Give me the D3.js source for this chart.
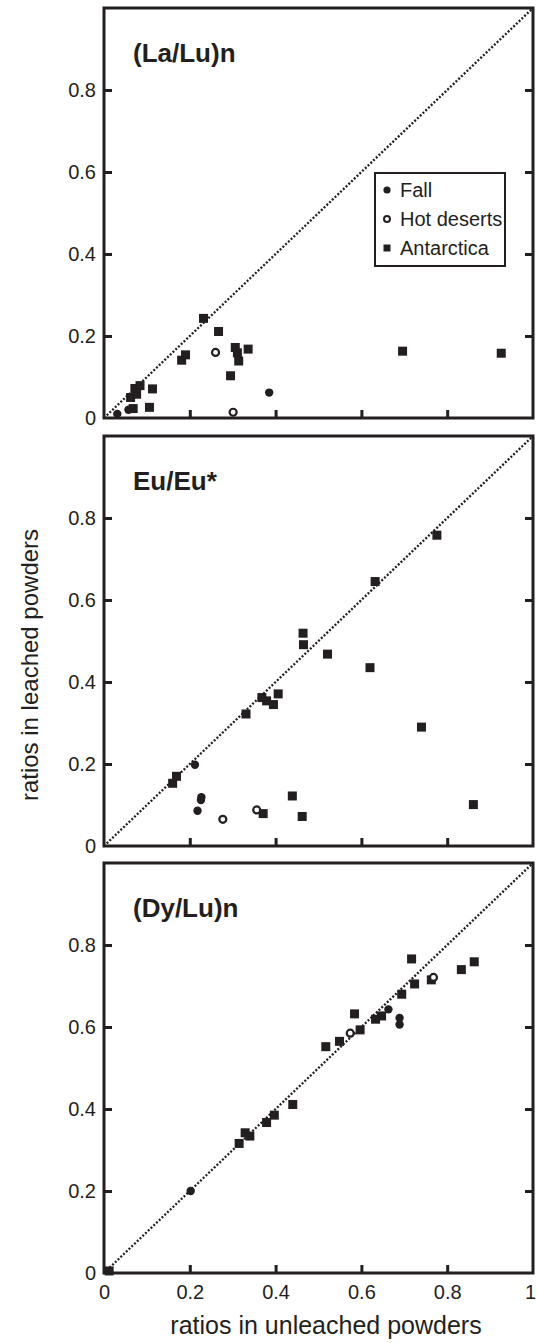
<!DOCTYPE html>
<html>
<head>
<meta charset="utf-8">
<script src="https://cdn.jsdelivr.net/npm/d3@7"></script>
<style>
html,body{margin:0;padding:0;background:#fff;}
svg{display:block;}
text{font-family:"Liberation Sans",Arial,Helvetica,sans-serif;fill:#231f20;}
</style>
</head>
<body>
<svg id="chart" width="537" height="1343"></svg>
<script>
// ---- data ----
const xTicks = [0, 0.2, 0.4, 0.6, 0.8, 1];
const yTicks = [0, 0.2, 0.4, 0.6, 0.8];
const seriesNames = ["Fall", "Hot deserts", "Antarctica"];
const panelLabels = ["(La/Lu)n", "Eu/Eu*", "(Dy/Lu)n"];

// (La/Lu)n : [unleached, leached]
const laLuFall = [[0.031,0.010],[0.057,0.020],[0.385,0.062]];
const laLuHot = [[0.260,0.160],[0.301,0.014]];
const laLuAnt = [[0.068,0.023],[0.062,0.050],[0.076,0.058],[0.072,0.072],[0.084,0.079],
  [0.113,0.071],[0.106,0.026],[0.181,0.141],[0.190,0.154],[0.232,0.243],[0.267,0.211],
  [0.306,0.172],[0.311,0.159],[0.314,0.139],[0.336,0.168],[0.295,0.103],[0.696,0.163],[0.926,0.158]];

// Eu/Eu*
const euFall = [[0.212,0.198],[0.227,0.119],[0.226,0.112],[0.218,0.086]];
const euHot = [[0.277,0.065],[0.356,0.088]];
const euAnt = [[0.776,0.758],[0.632,0.645],[0.464,0.519],[0.465,0.491],[0.521,0.468],
  [0.620,0.435],[0.740,0.290],[0.439,0.122],[0.462,0.072],[0.861,0.101],[0.160,0.153],
  [0.169,0.170],[0.371,0.079],[0.331,0.322],[0.368,0.362],[0.379,0.354],[0.395,0.345],[0.406,0.371]];

// (Dy/Lu)n
const dyLuFall = [[0.663,0.643],[0.689,0.622],[0.689,0.606],[0.202,0.200]];
const dyLuHot = [[0.768,0.721],[0.574,0.585]];
const dyLuAnt = [[0.717,0.766],[0.863,0.759],[0.833,0.740],[0.763,0.715],[0.724,0.705],
  [0.694,0.680],[0.647,0.627],[0.633,0.619],[0.584,0.632],[0.597,0.593],[0.549,0.565],
  [0.517,0.552],[0.440,0.411],[0.397,0.385],[0.379,0.367],[0.329,0.342],[0.340,0.334],
  [0.315,0.316],[0.012,0.005]];

const panels = [
  {label: panelLabels[0], fall: laLuFall, hot: laLuHot, ant: laLuAnt},
  {label: panelLabels[1], fall: euFall, hot: euHot, ant: euAnt},
  {label: panelLabels[2], fall: dyLuFall, hot: dyLuHot, ant: dyLuAnt}
];

// ---- layout ----
const ink = "#231f20";
const svg = d3.select("#chart");
const x = d3.scaleLinear().domain([0, 1]).range([104, 533]);
const bottoms = [418, 846, 1273];
const panelH = 410;
const sq = 9, rDot = 4.2, rOpen = 3.5;

panels.forEach((p, i) => {
  const y = d3.scaleLinear().domain([0, 1]).range([bottoms[i], bottoms[i] - panelH]);
  const g = svg.append("g");

  // diagonal 1:1 line
  g.append("line")
    .attr("x1", x(0)).attr("y1", y(0)).attr("x2", x(1)).attr("y2", y(1))
    .attr("stroke", ink).attr("stroke-width", 2.3)
    .attr("stroke-dasharray", "2 1.8");

  // left axis with labels
  const ay = g.append("g").attr("transform", `translate(${x(0)},0)`)
    .call(d3.axisLeft(y).tickValues(yTicks).tickSize(-8).tickPadding(8).tickFormat(d3.format("~g")));
  ay.select(".domain").remove();
  ay.selectAll("line").attr("stroke", ink).attr("stroke-width", 3);
  ay.selectAll("text").attr("font-size", 20).style("font-family", null);
  ay.selectAll(".tick").filter(d => d === 0).select("line").remove();

  // right axis ticks
  const ar = g.append("g").attr("transform", `translate(${x(1)},0)`)
    .call(d3.axisRight(y).tickValues(yTicks.filter(d => d > 0)).tickSize(-8).tickFormat(""));
  ar.select(".domain").remove();
  ar.selectAll("line").attr("stroke", ink).attr("stroke-width", 3);

  // bottom axis
  const ab = g.append("g").attr("transform", `translate(0,${y(0)})`)
    .call(d3.axisBottom(x).tickValues(i === 2 ? xTicks : xTicks.filter(d => d > 0 && d < 1))
      .tickSize(-8).tickPadding(12).tickFormat(i === 2 ? d3.format("~g") : ""));
  ab.select(".domain").remove();
  ab.selectAll("line").attr("stroke", ink).attr("stroke-width", 3);
  ab.selectAll(".tick").filter(d => d === 0 || d === 1).select("line").remove();
  ab.selectAll("text").attr("font-size", 20).style("font-family", null);
  ab.selectAll(".tick").filter(d => d === 1).select("text").attr("dx", "-3");

  // frame
  g.append("rect")
    .attr("x", x(0)).attr("y", y(1)).attr("width", x(1) - x(0)).attr("height", y(0) - y(1))
    .attr("fill", "none").attr("stroke", ink).attr("stroke-width", 3);

  // panel label
  g.append("text").attr("x", x(0) + 29).attr("y", y(1) + 54)
    .attr("font-size", 26).attr("font-weight", "bold").text(p.label);

  // points
  g.selectAll("rect.ant").data(p.ant).join("rect").attr("class", "ant")
    .attr("x", d => x(d[0]) - sq / 2).attr("y", d => y(d[1]) - sq / 2)
    .attr("width", sq).attr("height", sq).attr("fill", ink);
  g.selectAll("circle.fall").data(p.fall).join("circle").attr("class", "fall")
    .attr("cx", d => x(d[0])).attr("cy", d => y(d[1])).attr("r", rDot).attr("fill", ink);
  g.selectAll("circle.hot").data(p.hot).join("circle").attr("class", "hot")
    .attr("cx", d => x(d[0])).attr("cy", d => y(d[1])).attr("r", rOpen)
    .attr("fill", "#fff").attr("stroke", ink).attr("stroke-width", 2.2);

  // legend in first panel
  if (i === 0) {
    const lg = svg.append("g");
    lg.append("rect").attr("x", 375).attr("y", 173).attr("width", 130).attr("height", 93)
      .attr("fill", "#fff").attr("stroke", ink).attr("stroke-width", 2);
    const rows = [190, 219, 248];
    lg.append("circle").attr("cx", 387).attr("cy", rows[0]).attr("r", 3.6).attr("fill", ink);
    lg.append("circle").attr("cx", 387).attr("cy", rows[1]).attr("r", 3)
      .attr("fill", "#fff").attr("stroke", ink).attr("stroke-width", 2);
    lg.append("rect").attr("x", 383.5).attr("y", rows[2] - 3.5).attr("width", 7).attr("height", 7).attr("fill", ink);
    seriesNames.forEach((n, k) => {
      lg.append("text").attr("x", 400).attr("y", rows[k]).attr("dy", "0.36em")
        .attr("font-size", 20).text(n);
    });
  }
});

// axis titles
svg.append("text").attr("x", 326).attr("y", 1334).attr("text-anchor", "middle")
  .attr("font-size", 25).text("ratios in unleached powders");
svg.append("text").attr("transform", "translate(38,665) rotate(-90)").attr("text-anchor", "middle")
  .attr("font-size", 24).text("ratios in leached powders");
</script>
</body>
</html>
